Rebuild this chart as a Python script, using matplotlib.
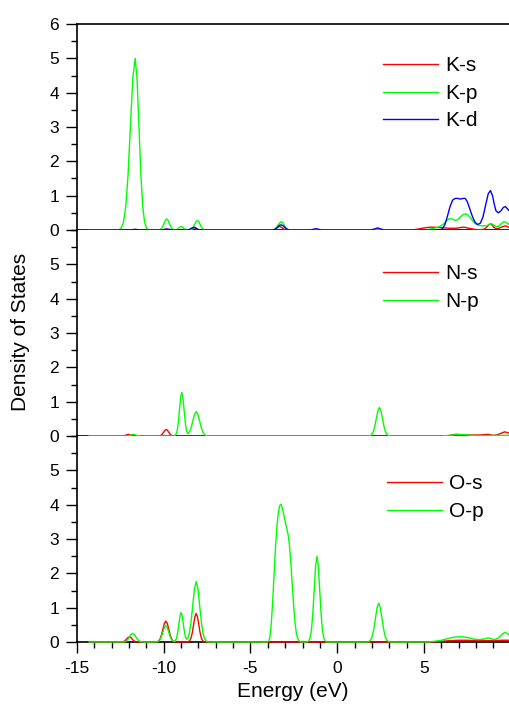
import matplotlib
matplotlib.use("Agg")
import matplotlib.pyplot as plt
from matplotlib.ticker import MultipleLocator

plt.rcParams['font.family'] = ['Liberation Sans', 'DejaVu Sans']
plt.rcParams['axes.unicode_minus'] = False

# ---------------- projected DOS, K atom ----------------
ks_e = [-14.3, -10.2, -9.95, -9.83, -9.7, -9.45,
        -8.6, -8.45, -8.35, -8.25, -8.15, -8.05, -7.9,
        -3.8, -3.62, -3.52, -3.42, -3.32, -3.22, -3.12, -3.02, -2.9,
        -1.45, -1.22, -1.0,
        2.0, 2.2, 2.33, 2.46, 2.65,
        4.3, 4.7, 5.0, 5.3, 5.6, 5.9, 6.2, 6.5, 6.8, 7.0, 7.2, 7.35, 7.5, 7.7,
        7.9, 8.1, 8.3, 8.5, 8.65, 8.75, 8.83, 8.92, 9.02, 9.12, 9.25, 9.4,
        9.55, 9.68, 9.8, 9.9]
ks_v = [0, 0, 0.01, 0.02, 0.01, 0,
        0, 0.01, 0.03, 0.06, 0.05, 0.02, 0,
        0, 0.01, 0.04, 0.08, 0.10, 0.08, 0.04, 0.01, 0,
        0, 0.015, 0,
        0, 0.02, 0.03, 0.02, 0,
        0, 0.03, 0.06, 0.08, 0.08, 0.07, 0.06, 0.05, 0.05, 0.06, 0.08, 0.08, 0.06, 0.04,
        0.02, 0.01, 0.01, 0.03, 0.10, 0.16, 0.18, 0.15, 0.08, 0.05, 0.04, 0.07,
        0.10, 0.12, 0.10, 0.08]

kp_e = [-14.3, -12.6,
        -12.46, -12.325, -12.19, -12.055, -11.92, -11.785, -11.65,
        -11.54, -11.43, -11.32, -11.21, -11.10, -10.99, -10.88,
        -10.35, -10.28, -10.205, -10.13, -10.055, -9.98, -9.905, -9.83,
        -9.755, -9.68, -9.605, -9.53, -9.455, -9.38,
        -9.26, -9.195, -9.13, -9.065, -9.0, -8.935, -8.87, -8.805, -8.74, -8.61,
        -8.51, -8.435, -8.36, -8.285, -8.21, -8.135, -8.06,
        -7.985, -7.91, -7.835, -7.76, -7.685, -7.61, -7.5,
        -3.85, -3.74, -3.655, -3.57, -3.485, -3.4, -3.315, -3.23,
        -3.145, -3.06, -2.975, -2.89, -2.805, -2.72, -2.6,
        -1.5, -1.32, -1.2, -1.08, -0.9,
        2.0, 2.2, 2.33, 2.46, 2.65,
        5.0, 5.3, 5.6, 5.9, 6.1, 6.3, 6.45, 6.6, 6.8, 6.95, 7.1, 7.25, 7.4,
        7.55, 7.7, 7.85, 8.0, 8.2, 8.45, 8.65, 8.8, 8.9, 9.0, 9.15, 9.3,
        9.45, 9.6, 9.7, 9.8, 9.9]
kp_v = [0, 0,
        0.055, 0.22, 0.675, 1.625, 3.035, 4.41, 5.0,
        4.41, 3.035, 1.625, 0.675, 0.22, 0.055, 0,
        0, 0.004, 0.014, 0.043, 0.104, 0.194, 0.282, 0.32,
        0.282, 0.194, 0.104, 0.043, 0.014, 0.005,
        0.0135, 0.0325, 0.061, 0.088, 0.10, 0.088, 0.061, 0.0325, 0.0135, 0.002,
        0.003, 0.012, 0.038, 0.091, 0.17, 0.247, 0.28,
        0.247, 0.17, 0.091, 0.038, 0.012, 0.003, 0,
        0, 0.003, 0.011, 0.032, 0.078, 0.146, 0.212, 0.24,
        0.212, 0.146, 0.078, 0.032, 0.011, 0.003, 0,
        0, 0.01, 0.02, 0.01, 0,
        0, 0.015, 0.03, 0.015, 0,
        0, 0.02, 0.05, 0.10, 0.16, 0.27, 0.33, 0.32, 0.28, 0.30, 0.38, 0.45, 0.47,
        0.43, 0.34, 0.24, 0.17, 0.13, 0.12, 0.13, 0.17, 0.18, 0.15, 0.10, 0.11,
        0.18, 0.24, 0.23, 0.19, 0.16]

kd_e = [-14.3, -12.0, -11.8, -11.65, -11.5, -11.3,
        -10.15, -9.95, -9.83, -9.7, -9.5,
        -8.65, -8.5, -8.38, -8.27, -8.16, -8.05, -7.9,
        -3.75, -3.6, -3.48, -3.36, -3.25, -3.14, -3.02, -2.9, -2.75,
        -1.55, -1.38, -1.23, -1.08, -0.9,
        1.95, 2.15, 2.33, 2.5, 2.7,
        5.9, 6.05, 6.2, 6.35, 6.5, 6.65, 6.8, 6.95, 7.1, 7.25, 7.38, 7.5, 7.65,
        7.8, 7.95, 8.1, 8.25, 8.4, 8.55, 8.7, 8.83, 8.95, 9.05, 9.15, 9.28,
        9.42, 9.58, 9.7, 9.8, 9.9]
kd_v = [0, 0, 0.01, 0.02, 0.01, 0,
        0, 0.02, 0.03, 0.02, 0,
        0, 0.02, 0.06, 0.08, 0.06, 0.02, 0,
        0, 0.02, 0.07, 0.13, 0.15, 0.13, 0.07, 0.02, 0,
        0, 0.02, 0.04, 0.02, 0,
        0, 0.03, 0.06, 0.03, 0,
        0, 0.03, 0.15, 0.40, 0.68, 0.87, 0.92, 0.92, 0.90, 0.92, 0.92, 0.82, 0.60,
        0.38, 0.22, 0.16, 0.20, 0.38, 0.72, 1.05, 1.15, 1.00, 0.75, 0.56, 0.50,
        0.55, 0.66, 0.68, 0.62, 0.57]

# ---------------- projected DOS, N atom ----------------
ns_e = [-14.3, -12.4, -12.2, -12.04, -11.88, -11.7,
        -10.35, -10.28, -10.21, -10.14, -10.07, -10.0, -9.93, -9.86,
        -9.79, -9.72, -9.65, -9.58, -9.51, -9.44, -9.3,
        6.3, 6.6, 6.85, 7.1, 7.4, 7.8, 8.2, 8.5, 8.7, 8.85, 9.0, 9.2, 9.45,
        9.65, 9.8, 9.9]
ns_v = [0, 0, 0.02, 0.05, 0.02, 0,
        0, 0.002, 0.008, 0.026, 0.062, 0.115, 0.168, 0.19,
        0.168, 0.115, 0.062, 0.026, 0.008, 0.002, 0,
        0, 0.03, 0.05, 0.04, 0.03, 0.03, 0.03, 0.04, 0.05, 0.03, 0.02, 0.03, 0.08,
        0.12, 0.10, 0.08]

np_e = [-14.3, -12.1, -11.9, -11.75, -11.6, -11.4,
        -9.5, -9.40, -9.30, -9.22, -9.155, -9.09, -9.025, -8.96,
        -8.895, -8.83, -8.765, -8.70, -8.635, -8.57, -8.50, -8.43, -8.33,
        -8.23, -8.13, -8.03, -7.93, -7.83, -7.73, -7.63, -7.53, -7.4,
        1.75, 1.89, 1.98, 2.07, 2.16, 2.25, 2.34, 2.43,
        2.52, 2.61, 2.70, 2.79, 2.88, 2.97, 3.1,
        6.0, 6.5, 6.9, 7.3, 7.7, 8.2, 9.9]
np_v = [0, 0, 0.025, 0.05, 0.025, 0,
        0, 0.004, 0.042, 0.172, 0.41, 0.77, 1.12, 1.27,
        1.12, 0.77, 0.418, 0.184, 0.085, 0.077, 0.13, 0.231, 0.431,
        0.626, 0.71, 0.626, 0.431, 0.231, 0.096, 0.031, 0.008, 0,
        0, 0.009, 0.037, 0.112, 0.27, 0.504, 0.732, 0.83,
        0.732, 0.504, 0.27, 0.112, 0.037, 0.009, 0,
        0, 0.02, 0.04, 0.04, 0.02, 0.01, 0.02]

# ---------------- projected DOS, O atom ----------------
os_e = [-14.3, -12.55, -12.43, -12.355, -12.28, -12.205, -12.13, -12.055, -11.98,
        -11.905, -11.83, -11.755, -11.68, -11.605, -11.53, -11.4,
        -10.5, -10.39, -10.305, -10.22, -10.135, -10.05, -9.965, -9.88,
        -9.795, -9.71, -9.625, -9.54, -9.455, -9.37, -9.25,
        -8.7, -8.58, -8.505, -8.43, -8.355, -8.28, -8.205, -8.13,
        -8.055, -7.98, -7.905, -7.83, -7.755, -7.68, -7.55,
        5.5, 6.0, 6.5, 7.0, 7.5, 8.0, 8.5, 9.0, 9.5, 9.9]
os_v = [0, 0, 0.002, 0.007, 0.02, 0.049, 0.091, 0.132, 0.15,
        0.132, 0.091, 0.049, 0.02, 0.007, 0.002, 0,
        0, 0.007, 0.027, 0.082, 0.198, 0.37, 0.538, 0.61,
        0.538, 0.37, 0.198, 0.082, 0.027, 0.007, 0,
        0, 0.009, 0.037, 0.112, 0.27, 0.504, 0.732, 0.83,
        0.732, 0.504, 0.27, 0.112, 0.037, 0.009, 0,
        0, 0.02, 0.04, 0.05, 0.05, 0.04, 0.04, 0.04, 0.05, 0.05]

op_e = [-14.3, -12.45, -12.33, -12.24, -12.15, -12.06, -11.97, -11.88, -11.79,
        -11.70, -11.61, -11.52, -11.43, -11.34, -11.25, -11.1,
        -10.5, -10.39, -10.305, -10.22, -10.135, -10.05, -9.965, -9.88,
        -9.795, -9.71, -9.625, -9.54, -9.455, -9.39,
        -9.325, -9.26, -9.195, -9.13, -9.065, -9.0, -8.935, -8.87, -8.805,
        -8.74, -8.675, -8.61, -8.53, -8.43, -8.33, -8.23, -8.13,
        -8.03, -7.93, -7.83, -7.73, -7.63, -7.53, -7.43, -7.3,
        -4.05, -3.95, -3.88, -3.8, -3.72, -3.64, -3.56, -3.48, -3.40, -3.32, -3.24,
        -3.16, -3.08, -3.0, -2.92, -2.84, -2.76, -2.68, -2.60, -2.52, -2.44,
        -2.36, -2.28, -2.2, -2.1,
        -1.75, -1.65, -1.57, -1.49, -1.41, -1.33, -1.25, -1.17,
        -1.09, -1.01, -0.93, -0.85, -0.77, -0.69, -0.6,
        1.7, 1.82, 1.915, 2.01, 2.105, 2.2, 2.295, 2.39,
        2.485, 2.58, 2.675, 2.77, 2.865, 2.96, 3.1,
        5.2, 5.6, 6.0, 6.4, 6.7, 7.0, 7.3, 7.6, 7.9, 8.2, 8.5, 8.7, 8.85,
        9.05, 9.25, 9.45, 9.65, 9.8, 9.9]
op_v = [0, 0, 0.003, 0.011, 0.034, 0.081, 0.152, 0.22, 0.25,
        0.22, 0.152, 0.081, 0.034, 0.011, 0.003, 0,
        0, 0.005, 0.02, 0.063, 0.153, 0.285, 0.415, 0.47,
        0.415, 0.285, 0.153, 0.063, 0.02, 0.016,
        0.038, 0.116, 0.28, 0.522, 0.759, 0.86, 0.759, 0.522, 0.286,
        0.133, 0.081, 0.108, 0.24, 0.572, 1.068, 1.552, 1.76,
        1.552, 1.068, 0.572, 0.238, 0.077, 0.019, 0.004, 0,
        0, 0.03, 0.15, 0.55, 1.2, 2.0, 2.75, 3.35, 3.75, 3.97, 4.01,
        3.9, 3.7, 3.5, 3.32, 3.15, 2.85, 2.35, 1.7, 1.1, 0.6,
        0.27, 0.10, 0.03, 0,
        0, 0.028, 0.11, 0.338, 0.812, 1.518, 2.205, 2.5,
        2.205, 1.518, 0.812, 0.338, 0.11, 0.028, 0,
        0, 0.012, 0.05, 0.153, 0.367, 0.686, 0.997, 1.13,
        0.997, 0.686, 0.367, 0.153, 0.05, 0.012, 0,
        0, 0.02, 0.05, 0.10, 0.14, 0.15, 0.15, 0.12, 0.08, 0.07, 0.09, 0.12, 0.10,
        0.07, 0.10, 0.20, 0.28, 0.25, 0.21]

RED, GREEN, BLUE = '#ff0000', '#00ff00', '#0000ff'

panels = [
    [(ks_e, ks_v, 'K-s', RED), (kp_e, kp_v, 'K-p', GREEN), (kd_e, kd_v, 'K-d', BLUE)],
    [(ns_e, ns_v, 'N-s', RED), (np_e, np_v, 'N-p', GREEN)],
    [(os_e, os_v, 'O-s', RED), (op_e, op_v, 'O-p', GREEN)],
]
legend_anchor = [(0.708, 0.843), (0.708, 0.833), (0.717, 0.814)]
x_ticks = [-15, -10, -5, 0, 5]

fig = plt.figure(figsize=(5.09, 7.09), dpi=100)
left, width, height = 77 / 509, 432 / 509, 206 / 709
bottoms = [1 - 230 / 709, 1 - 436 / 709, 1 - 642 / 709]

for i, (curves, b) in enumerate(zip(panels, bottoms)):
    ax = fig.add_axes([left, b, width, height])
    for e, v, name, col in curves:
        ax.plot(e, v, color=col, lw=1.0, label=name, zorder=3, clip_on=False)
    ax.set_xlim(-15, 9.9)
    ax.set_ylim(0, 6)
    ax.set_xticks(x_ticks)
    ax.xaxis.set_minor_locator(MultipleLocator(1))
    ax.set_yticks(range(0, 7) if i == 0 else range(0, 6))
    ax.yaxis.set_minor_locator(MultipleLocator(0.5))
    ax.tick_params(axis='both', which='major', direction='out', length=8,
                   width=1.0, labelsize=12.5)
    ax.tick_params(axis='both', which='minor', direction='out', length=4, width=1.0)
    ax.tick_params(axis='x', pad=6)
    ax.tick_params(axis='y', pad=5)
    ax.spines['right'].set_visible(False)
    for s in ('left', 'bottom', 'top'):
        ax.spines[s].set_linewidth(1.2)
    if i > 0:
        ax.spines['top'].set_visible(False)
    if i < 2:
        ax.tick_params(axis='x', labelbottom=False)
    else:
        ax.set_xlabel('Energy (eV)', fontsize=15, labelpad=4)
    ax.legend(loc='upper left', bbox_to_anchor=legend_anchor[i], frameon=False,
              fontsize=15, handlelength=2.64, handletextpad=0.34,
              labelspacing=0.41, borderpad=0, borderaxespad=0)

fig.text(21 / 509, 1 - 332 / 709, 'Density of States', rotation=90,
         ha='center', va='center', fontsize=15)

fig.savefig('out.png', dpi=100)
